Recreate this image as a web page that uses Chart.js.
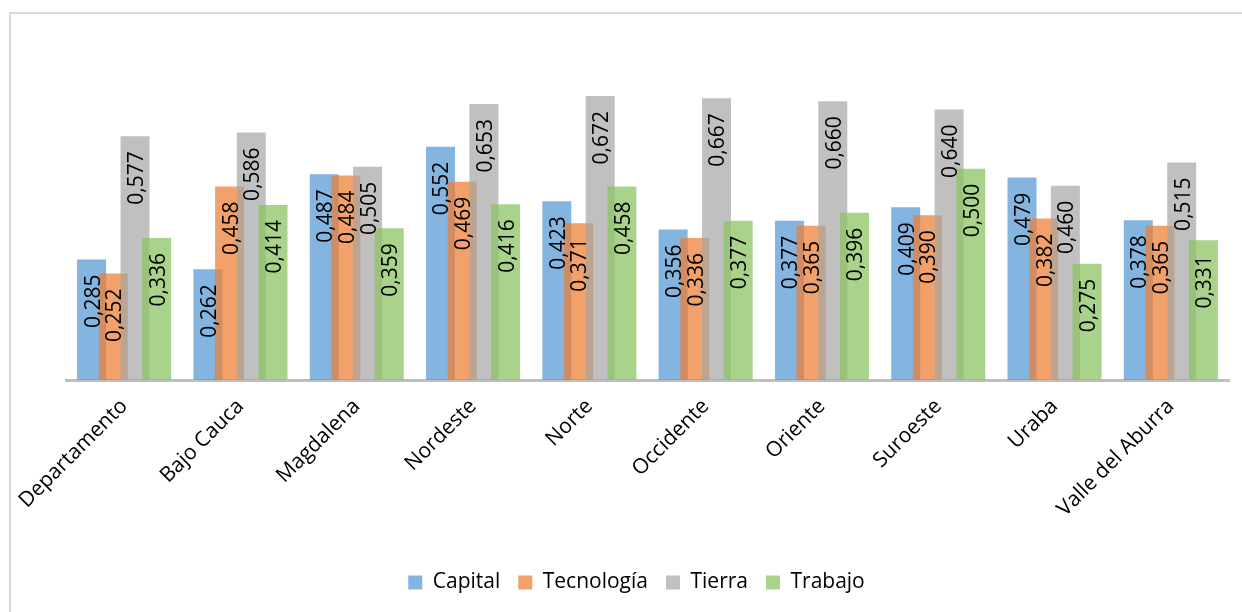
<!DOCTYPE html>
<html>
<head>
<meta charset="utf-8">
<script src="https://cdn.jsdelivr.net/npm/chart.js@4.4.0/dist/chart.umd.min.js"></script>
<style>
    html, body { margin: 0; padding: 0; background: #fff; overflow: hidden; }
    #frame {
        position: absolute; left: 9px; top: 12px; width: 1300px; height: 700px;
        border-top: 2px solid #d9d9d9; border-left: 2px solid #d9d9d9;
    }
    #wrap { position: absolute; left: 0; top: 0; width: 1242px; height: 612px; }
</style>
</head>
<body>
<div id="frame"></div>
<div id="wrap"><canvas id="chart" width="1242" height="612"></canvas></div>
<script>
let regiones = ['Departamento', 'Bajo Cauca', 'Magdalena', 'Nordeste', 'Norte', 'Occidente', 'Oriente', 'Suroeste', 'Uraba', 'Valle del Aburra'];
let capital = [0.285, 0.262, 0.487, 0.552, 0.423, 0.356, 0.377, 0.409, 0.479, 0.378];
let tecnologia = [0.252, 0.458, 0.484, 0.469, 0.371, 0.336, 0.365, 0.390, 0.382, 0.365];
let tierra = [0.577, 0.586, 0.505, 0.653, 0.672, 0.667, 0.660, 0.640, 0.460, 0.515];
let trabajo = [0.336, 0.414, 0.359, 0.416, 0.458, 0.377, 0.396, 0.500, 0.275, 0.331];

Chart.defaults.font.family = "'Open Sans', sans-serif";
Chart.defaults.font.size = 21;
Chart.defaults.color = '#000';

// bars of the later series go over the earlier ones, like in Excel
const drawOrder = {
    id: 'drawOrder',
    beforeDatasetDraw() {
        return false;
    },
    afterDatasetsDraw(chart) {
        chart.data.datasets.forEach((ds, i) => {
            let meta = chart.getDatasetMeta(i);
            if (!meta.hidden) meta.controller.draw();
        });
    }
};

// value labels, turned -90 and put inside the top of each bar
const barLabels = {
    id: 'barLabels',
    afterDatasetsDraw(chart) {
        let ctx = chart.ctx;
        ctx.save();
        ctx.font = "21px 'Open Sans', sans-serif";
        ctx.fillStyle = '#000';
        ctx.textAlign = 'right';
        ctx.textBaseline = 'middle';
        chart.data.datasets.forEach((ds, i) => {
            chart.getDatasetMeta(i).data.forEach((bar, j) => {
                let txt = ds.data[j].toFixed(3).replace('.', ',');
                ctx.save();
                ctx.translate(bar.x + 2, bar.y + 15);
                ctx.rotate(-Math.PI / 2);
                ctx.fillText(txt, 0, 0);
                ctx.restore();
            });
        });
        ctx.restore();
    }
};

// the legend sits a little left of the plot centre
const legendShift = {
    id: 'legendShift',
    afterLayout(chart) {
        chart.legend.left -= 11;
        chart.legend.right -= 11;
    }
};

function serie(label, data, color) {
    return {
        label: label,
        data: data,
        backgroundColor: color,
        borderWidth: 0,
        categoryPercentage: 0.746,
        barPercentage: 1.336
    };
}

let ctx = document.getElementById('chart').getContext('2d');
new Chart(ctx, {
    type: 'bar',
    data: {
        labels: regiones,
        datasets: [
            serie('Capital', capital, 'rgba(91, 155, 213, 0.75)'),
            serie('Tecnología', tecnologia, 'rgba(237, 125, 49, 0.72)'),
            serie('Tierra', tierra, 'rgba(165, 165, 165, 0.7)'),
            serie('Trabajo', trabajo, 'rgba(140, 195, 100, 0.75)')
        ]
    },
    plugins: [drawOrder, barLabels, legendShift],
    options: {
        responsive: false,
        animation: false,
        layout: {
            padding: { left: 66, right: 13, top: 42, bottom: 9 }
        },
        plugins: {
            tooltip: { enabled: false },
            legend: {
                position: 'bottom',
                labels: {
                    boxWidth: 14,
                    boxHeight: 14,
                    padding: 18,
                    font: { size: 21 }
                }
            }
        },
        scales: {
            x: {
                grid: { display: true, color: 'rgba(0,0,0,0)', drawTicks: false },
                border: { display: true, color: '#bfbfbf', width: 3 },
                ticks: {
                    minRotation: 45,
                    maxRotation: 45,
                    padding: 14,
                    font: { size: 21 }
                },
                afterFit(scale) {
                    scale.height = 174;
                }
            },
            y: {
                display: false,
                min: 0,
                max: 0.8
            }
        }
    }
});
</script>
</body>
</html>
